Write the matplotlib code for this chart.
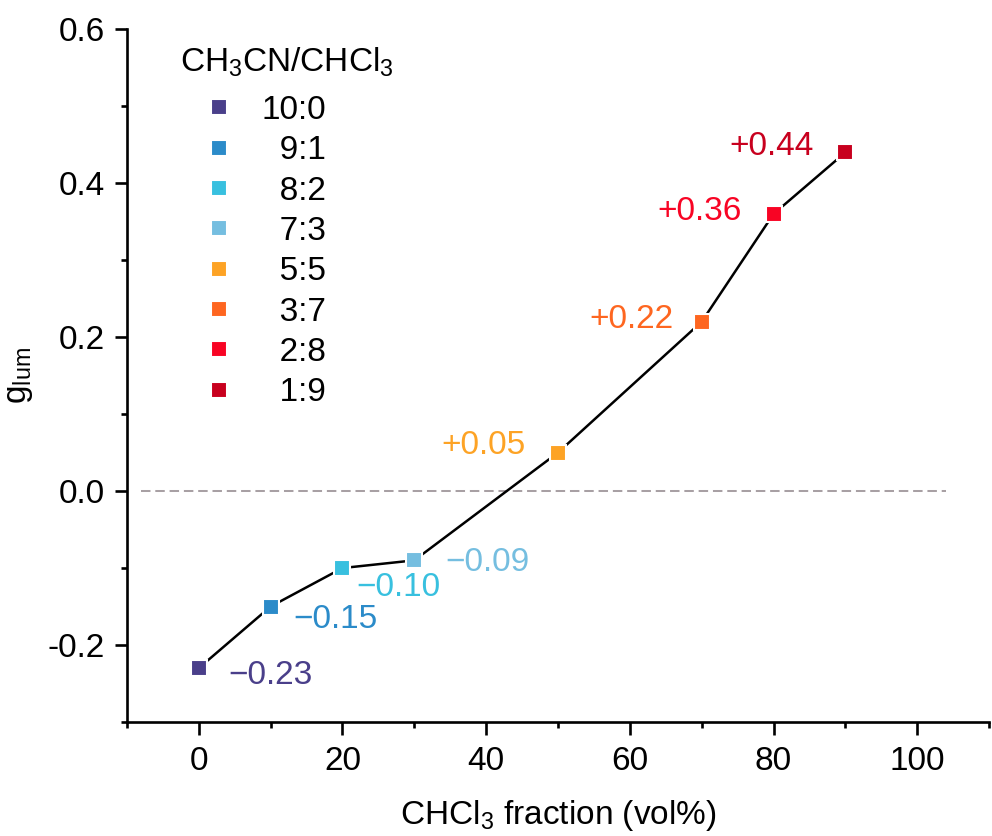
import matplotlib
matplotlib.use('Agg')
import matplotlib.pyplot as plt
from matplotlib.ticker import MultipleLocator, FormatStrFormatter

plt.rcParams['font.family'] = ['Liberation Sans', 'DejaVu Sans']
plt.rcParams['mathtext.default'] = 'regular'
plt.rcParams['axes.unicode_minus'] = False

# CHCl3 volume fraction and measured g_lum for each solvent ratio
ratios = ['10:0', '9:1', '8:2', '7:3', '5:5', '3:7', '2:8', '1:9']
chcl3 = [0, 10, 20, 30, 50, 70, 80, 90]
glum = [-0.23, -0.15, -0.10, -0.09, 0.05, 0.22, 0.36, 0.44]
colors = ['#4a3f8a', '#2b8bc9', '#38c0df', '#75bee0',
          '#fda325', '#fe6620', '#f80424', '#c8001e']
# label offsets (points) for each value tag
offsets = [(21, -5), (16, -9), (10, -14), (22, -1.5),
           (-23, 5), (-20, 1.5), (-23, 2), (-23, 4)]

fs = 24

fig = plt.figure(figsize=(9.92, 8.36), dpi=100)
ax = fig.add_axes([0.128, 0.1364, 0.869, 0.8286])

ax.hlines(0, -8, 104, colors='#a8a0a4', linestyles=(0, (4.7, 2.4)), lw=1.45, zorder=1)
ax.plot(chcl3, glum, color='black', lw=1.8, zorder=2)

for i in range(len(chcl3)):
    ax.plot(chcl3[i], glum[i], ls='none', marker='s', ms=11.2, mew=1.5,
            mfc=colors[i], mec='white', zorder=3,
            label=ratios[i].rjust(4, '\u2007'))
    v = glum[i]
    txt = ('+%.2f' % v) if v > 0 else ('\u2212%.2f' % abs(v))
    dx, dy = offsets[i]
    ax.annotate(txt, (chcl3[i], v), xytext=(dx, dy), textcoords='offset points',
                ha='left' if dx > 0 else 'right', va='center',
                color=colors[i], fontsize=fs)

ax.set_xlim(-10, 110)
ax.set_ylim(-0.3, 0.6)
ax.set_xticks([0, 20, 40, 60, 80, 100])
ax.set_yticks([-0.2, 0.0, 0.2, 0.4, 0.6])
ax.xaxis.set_minor_locator(MultipleLocator(10))
ax.yaxis.set_minor_locator(MultipleLocator(0.1))
ax.yaxis.set_major_formatter(FormatStrFormatter('%.1f'))

for s in ['top', 'right']:
    ax.spines[s].set_visible(False)
for s in ['left', 'bottom']:
    ax.spines[s].set_linewidth(1.9)
ax.tick_params(which='major', direction='out', length=9, width=1.9,
               labelsize=fs, pad=7)
ax.tick_params(axis='x', which='major', pad=8.5)
ax.tick_params(which='minor', direction='out', length=4.5, width=1.9)

ax.set_xlabel('CHCl$_3$ fraction (vol%)', fontsize=fs, labelpad=15)
ax.set_ylabel('g$_{lum}$', fontsize=fs, labelpad=9)

# legend title drawn separately so its spacing to the entries can be set
ax.text(0.062, 0.9528, 'CH$_3$CN/CHCl$_3$', transform=ax.transAxes,
        fontsize=fs, ha='left', va='center')
ax.legend(loc='upper left', bbox_to_anchor=(0.062, 0.905),
          fontsize=fs, frameon=False, borderpad=0,
          handlelength=2.3, handletextpad=0.13, labelspacing=0.28,
          borderaxespad=0)

fig.savefig('out.png', dpi=100)
